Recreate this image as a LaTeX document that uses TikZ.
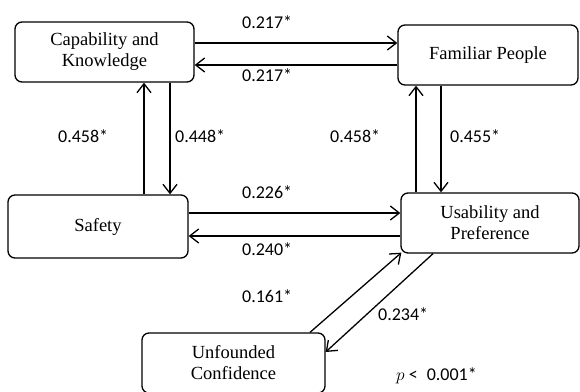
\documentclass[tikz,border=0pt]{standalone}
\usepackage{fontspec}
\setmainfont{Liberation Serif}
\newfontfamily\labfont{Carlito}
\usetikzlibrary{arrows.meta,calc}
\begin{document}
\begin{tikzpicture}[x=1pt,y=-1pt,
  boxnode/.style={draw,line width=1.3pt,rounded corners=7pt,align=center,
    inner sep=0pt,font=\fontsize{18.5}{21}\selectfont},
  conn/.style={line width=1.3pt,-{Straight Barb[length=9pt,width=14pt,line width=1.3pt]}},
  lab/.style={anchor=base west,inner sep=0pt,font=\labfont\fontsize{18}{20}\selectfont}]
\useasboundingbox (0,0) rectangle (580,391);
\node[boxnode,minimum width=179pt,minimum height=60pt] (cap) at (104.5,52) {Capability and\\Knowledge};
\node[boxnode,minimum width=180pt,minimum height=60pt] (fam) at (488,55) {Familiar People};
\node[boxnode,minimum width=180pt,minimum height=63pt] (saf) at (98,226.5) {Safety};
\node[boxnode,minimum width=178pt,minimum height=60pt] (usa) at (490,223) {Usability and\\Preference};
\node[boxnode,minimum width=183pt,minimum height=60pt] (unf) at (233.5,363) {Unfounded\\Confidence};
% cap <-> fam
\draw[conn] ([yshift=9pt]cap.east) -- ([yshift=9pt]cap.east -| fam.west);
\draw[conn] ([yshift=-10pt]fam.west) -- ([yshift=-10pt]fam.west -| cap.east);
% cap <-> saf
\draw[conn] ([xshift=39.5pt]cap.south |- saf.north) -- ([xshift=39.5pt]cap.south);
\draw[conn] ([xshift=65.5pt]cap.south) -- ([xshift=65.5pt]cap.south |- saf.north);
% fam <-> usa
\draw[conn] ([xshift=-72pt]fam.south |- usa.north) -- ([xshift=-72pt]fam.south);
\draw[conn] ([xshift=-47pt]fam.south) -- ([xshift=-47pt]fam.south |- usa.north);
% saf <-> usa
\draw[conn] ([yshift=13.5pt]saf.east) -- ([yshift=13.5pt]saf.east -| usa.west);
\draw[conn] ([yshift=-9.5pt]usa.west |- saf.east) ++(0,0) coordinate (ua) -- (ua -| saf.east);
% unf <-> usa
\draw[conn] ([xshift=76.5pt]unf.north) -- ([xshift=1pt,yshift=1pt]usa.south west);
\draw[conn] ([xshift=-57pt]usa.south) -- ([yshift=11pt]unf.east);
% labels
\node[lab] (l1) at (242,28) {0.217*};
\node[lab] (l2) at (242,81) {0.217*};
\node[lab] (l3) at (58,142) {0.458*};
\node[lab] (l4) at (175,142) {0.448*};
\node[lab] (l5) at (330,142) {0.458*};
\node[lab] (l6) at (450,142) {0.455*};
\node[lab] (l7) at (242,198) {0.226*};
\node[lab] (l8) at (242,255) {0.240*};
\node[lab] (l9) at (242,302) {0.161*};
\node[lab] (l10) at (378,320) {0.234*};
\node[lab] (l11) at (396,380) {$p$ <\; 0.001*};
\end{tikzpicture}
\end{document}
